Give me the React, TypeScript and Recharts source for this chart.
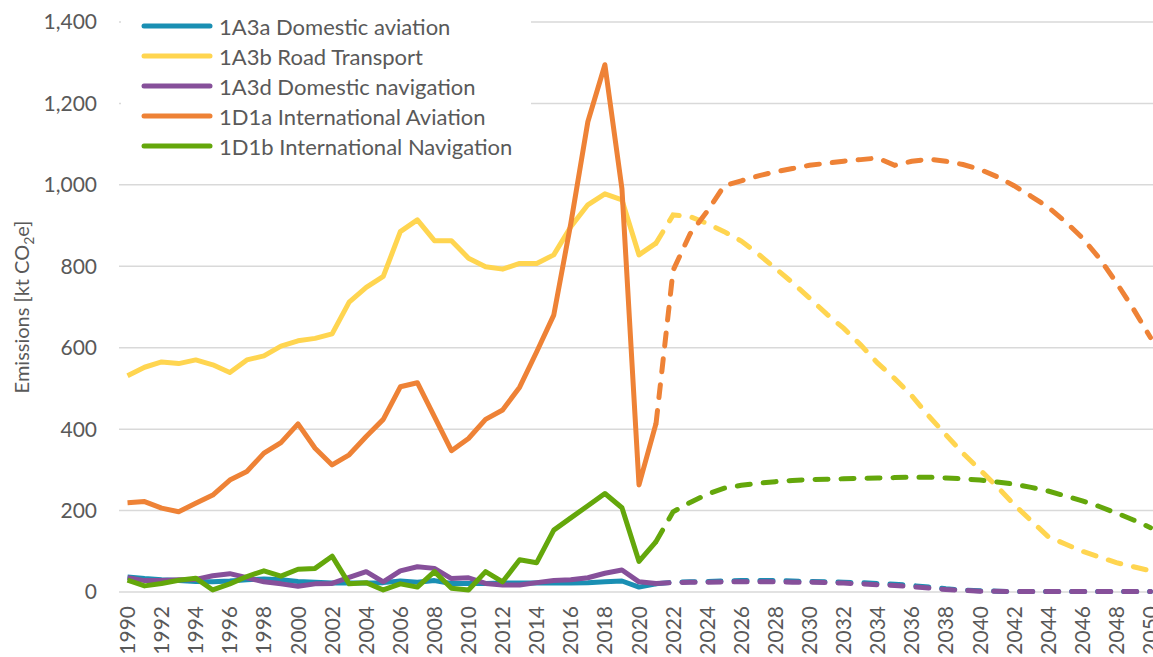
import { LineChart, Line, XAxis, YAxis, CartesianGrid, Legend } from "recharts";

const FONT = "Lato, 'Open Sans', sans-serif";
const INK = "#595959";

const YEARS = [
  1990, 1991, 1992, 1993, 1994, 1995, 1996, 1997, 1998, 1999, 2000, 2001, 2002, 2003, 2004, 2005,
  2006, 2007, 2008, 2009, 2010, 2011, 2012, 2013, 2014, 2015, 2016, 2017, 2018, 2019, 2020, 2021,
  2022, 2023, 2024, 2025, 2026, 2027, 2028, 2029, 2030, 2031, 2032, 2033, 2034, 2035, 2036, 2037,
  2038, 2039, 2040, 2041, 2042, 2043, 2044, 2045, 2046, 2047, 2048, 2049, 2050,
];
const LAST_HIST_YEAR = 2021;
const X_TICKS = [
  1990, 1992, 1994, 1996, 1998, 2000, 2002, 2004, 2006, 2008, 2010, 2012, 2014, 2016, 2018, 2020,
  2022, 2024, 2026, 2028, 2030, 2032, 2034, 2036, 2038, 2040, 2042, 2044, 2046, 2048, 2050,
];
const Y_TICKS = [0, 200, 400, 600, 800, 1000, 1200, 1400];

// 1990-2021 inventory
const domAviationHist = [37, 33, 30, 28, 26, 25, 27, 30, 32, 30, 26, 24, 22, 22, 22, 23, 27, 24, 28, 21, 21, 21, 22, 22, 22, 22, 22, 23, 25, 27, 12, 20];
const roadHist = [531, 552, 565, 561, 570, 558, 539, 570, 580, 604, 617, 623, 634, 712, 748, 775, 885, 914, 863, 863, 820, 799, 793, 807, 807, 828, 897, 951, 978, 963, 828, 857];
const domNavHist = [35, 28, 28, 30, 31, 40, 45, 35, 25, 20, 14, 20, 21, 36, 50, 25, 52, 62, 58, 33, 35, 21, 17, 17, 23, 28, 30, 35, 46, 54, 25, 21];
const intAviationHist = [219, 222, 206, 197, 218, 238, 275, 296, 341, 367, 413, 353, 312, 337, 382, 424, 504, 514, 431, 347, 377, 424, 447, 503, 590, 680, 905, 1155, 1295, 990, 263, 414];
const intNavHist = [29, 15, 21, 29, 34, 5, 20, 38, 52, 39, 56, 58, 88, 20, 23, 5, 20, 12, 50, 9, 5, 50, 25, 79, 72, 152, 182, 212, 242, 207, 75, 124];

// 2021-2050 projection
const domAviationProj = [20, 24, 25, 26, 27, 28, 28, 28, 27, 26, 25, 24, 23, 21, 19, 16, 12, 8, 5, 3, 2, 1, 1, 1, 1, 1, 1, 1, 1, 1];
const roadProj = [857, 926, 922, 905, 885, 862, 830, 795, 760, 722, 683, 648, 607, 562, 524, 482, 432, 386, 341, 300, 259, 215, 175, 136, 118, 100, 86, 72, 62, 52];
const domNavProj = [21, 23, 24, 24, 25, 25, 25, 25, 24, 24, 23, 22, 20, 18, 16, 13, 10, 6, 4, 2, 2, 1, 1, 1, 1, 1, 1, 1, 1, 1];
const intAviationProj = [414, 790, 880, 935, 998, 1010, 1022, 1032, 1040, 1048, 1053, 1058, 1062, 1066, 1048, 1058, 1063, 1058, 1050, 1038, 1020, 998, 972, 945, 910, 870, 820, 760, 695, 625];
const intNavProj = [124, 197, 220, 240, 255, 262, 267, 271, 274, 276, 277, 278, 279, 280, 281, 282, 282, 280, 278, 275, 270, 265, 257, 248, 236, 224, 210, 194, 177, 158];

const SERIES = [
  { key: "a3a", name: "1A3a Domestic aviation", color: "#1A8FB3", hist: domAviationHist, proj: domAviationProj },
  { key: "a3b", name: "1A3b Road Transport", color: "#FFD550", hist: roadHist, proj: roadProj },
  { key: "a3d", name: "1A3d Domestic navigation", color: "#86509A", hist: domNavHist, proj: domNavProj },
  { key: "d1a", name: "1D1a International Aviation", color: "#EE8236", hist: intAviationHist, proj: intAviationProj },
  { key: "d1b", name: "1D1b International Navigation", color: "#64A70B", hist: intNavHist, proj: intNavProj },
];

const data = YEARS.map((year, i) => {
  const row: Record<string, number | null> = { year };
  const j = year - LAST_HIST_YEAR;
  SERIES.forEach((s) => {
    row[s.key + "_h"] = year <= LAST_HIST_YEAR ? s.hist[i] : null;
    row[s.key + "_p"] = j >= 0 ? s.proj[j] : null;
  });
  return row;
});

const YearTick = ({ x, y, payload }: any) => (
  <text
    transform={`translate(${x},${y + 14}) rotate(-90)`}
    textAnchor="end"
    dy="0.36em"
    fontFamily={FONT}
    fontSize={21}
    fill={INK}
  >
    {payload.value}
  </text>
);

const YTitle = ({ viewBox }: any) => (
  <text
    transform={`translate(${viewBox.x + 22},${viewBox.y + viewBox.height / 2}) rotate(-90)`}
    textAnchor="middle"
    dy="0.36em"
    fontFamily={FONT}
    fontSize={20}
    fill={INK}
  >
    Emissions [kt CO
    <tspan fontSize={14} dy={5}>2</tspan>
    <tspan dy={-5}>e]</tspan>
  </text>
);

function LegendBox() {
  return (
    <div style={{ background: "#fff", padding: "2px 19px 4px 20px", fontFamily: FONT, fontSize: 22, color: INK }}>
      {SERIES.map((s) => (
        <div key={s.key} style={{ display: "flex", alignItems: "center", height: 30, whiteSpace: "nowrap" }}>
          <svg width={72} height={8} style={{ flex: "none" }}>
            <line x1={3} y1={4} x2={69} y2={4} stroke={s.color} strokeWidth={5} strokeLinecap="round" />
          </svg>
          <span style={{ marginLeft: 6 }}>{s.name}</span>
        </div>
      ))}
    </div>
  );
}

export default function App() {
  return (
    <div style={{ position: "absolute", left: 0, top: 0, width: 1153, height: 657, overflow: "hidden", background: "#fff" }}>
      <LineChart width={1159} height={657} data={data} margin={{ top: 22, right: 0, bottom: 0, left: 0 }}>
        <CartesianGrid horizontal vertical={false} stroke="#D9D9D9" strokeWidth={1.5} />
        <XAxis
          dataKey="year"
          type="number"
          domain={[1989.5, 2050.5]}
          ticks={X_TICKS}
          interval={0}
          height={65}
          axisLine={false}
          tickLine={false}
          tickSize={0}
          tickMargin={0}
          tick={<YearTick />}
        />
        <YAxis
          domain={[0, 1400]}
          ticks={Y_TICKS}
          width={119}
          axisLine={false}
          tickLine={false}
          tickSize={0}
          tickMargin={22}
          tickFormatter={(v: number) => v.toLocaleString("en-US")}
          tick={{ fontFamily: FONT, fontSize: 21, fill: INK }}
          label={{ content: <YTitle /> }}
        />
        <Legend
          layout="vertical"
          align="center"
          verticalAlign="middle"
          content={<LegendBox />}
          wrapperStyle={{ left: 121, top: 9, width: "auto", height: "auto" }}
        />
        {SERIES.map((s) => [
          <Line
            key={s.key + "_h"}
            dataKey={s.key + "_h"}
            name={s.name}
            stroke={s.color}
            strokeWidth={5}
            strokeLinejoin="round"
            dot={false}
            activeDot={false}
            isAnimationActive={false}
          />,
          <Line
            key={s.key + "_p"}
            dataKey={s.key + "_p"}
            name={s.name + " (projection)"}
            stroke={s.color}
            strokeWidth={5}
            strokeDasharray="13 13"
            strokeLinecap="round"
            dot={false}
            activeDot={false}
            legendType="none"
            isAnimationActive={false}
          />,
        ])}
      </LineChart>
    </div>
  );
}
